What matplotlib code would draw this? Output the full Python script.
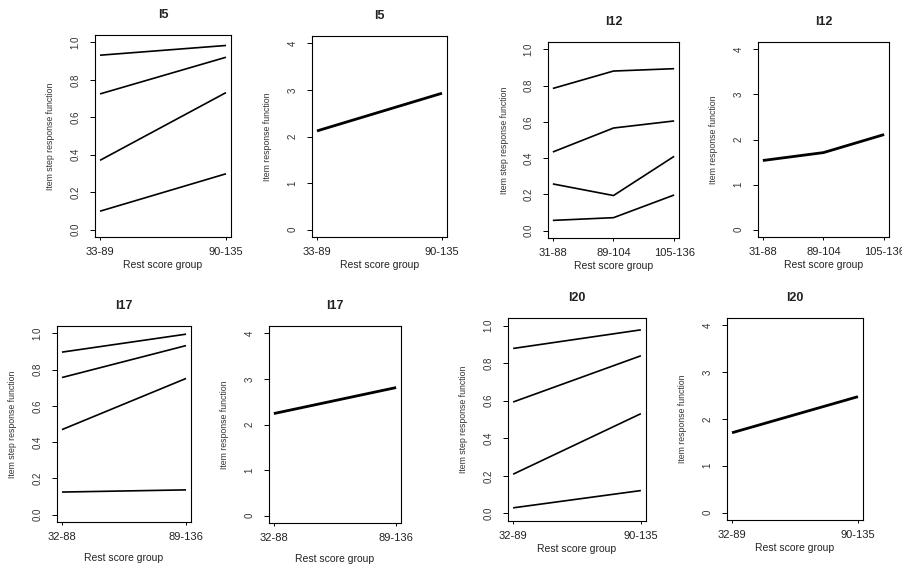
import matplotlib
matplotlib.use("Agg")
import matplotlib.pyplot as plt

plt.rcParams['font.family'] = ['Liberation Sans', 'DejaVu Sans']

# item data
items = ['I5', 'I12', 'I17', 'I20']

groups_I5 = ['33-89', '90-135']
step_I5 = [[0.932, 0.984], [0.725, 0.921], [0.370, 0.732], [0.098, 0.298]]
irf_I5 = [2.12, 2.93]

groups_I12 = ['31-88', '89-104', '105-136']
step_I12 = [[0.784, 0.880, 0.893], [0.434, 0.566, 0.605],
            [0.258, 0.194, 0.410], [0.057, 0.072, 0.197]]
irf_I12 = [1.535, 1.71, 2.11]

groups_I17 = ['32-88', '89-136']
step_I17 = [[0.896, 0.995], [0.756, 0.932], [0.469, 0.751], [0.125, 0.137]]
irf_I17 = [2.24, 2.81]

groups_I20 = ['32-89', '90-135']
step_I20 = [[0.878, 0.977], [0.593, 0.839], [0.209, 0.531], [0.030, 0.122]]
irf_I20 = [1.706, 2.478]

groups = dict(I5=groups_I5, I12=groups_I12, I17=groups_I17, I20=groups_I20)
steps = dict(I5=step_I5, I12=step_I12, I17=step_I17, I20=step_I20)
irfs = dict(I5=irf_I5, I12=irf_I12, I17=irf_I17, I20=irf_I20)

W, H = 903, 565
# panel boxes in pixels: left, right, top, bottom
boxes = {
    ('I5', 'step'): (95, 231, 35, 237),
    ('I5', 'irf'): (312, 447, 36, 237),
    ('I12', 'step'): (548, 679, 42, 238),
    ('I12', 'irf'): (758, 889, 42, 237),
    ('I17', 'step'): (57, 191, 326, 522),
    ('I17', 'irf'): (269, 401, 326, 523),
    ('I20', 'step'): (508, 646, 318, 521),
    ('I20', 'irf'): (727, 863, 318, 520),
}

fig = plt.figure(figsize=(W / 100, H / 100), dpi=100)

for item in items:
    for kind in ('step', 'irf'):
        l, r, t, b = boxes[(item, kind)]
        w, h = r - l, b - t
        ax = fig.add_axes([l / W, 1 - b / H, w / W, h / H])
        g = groups[item]
        x = list(range(1, len(g) + 1))
        n = len(g) - 1
        if kind == 'step':
            for row in steps[item]:
                ax.plot(x, row, color='black', lw=1.2, solid_capstyle='butt')
            ax.set_ylim(-0.04, 1.04)
            ax.set_yticks([0, 0.2, 0.4, 0.6, 0.8, 1.0])
            ax.set_yticklabels(['0.0', '0.2', '0.4', '0.6', '0.8', '1.0'])
            ylab = 'Item step response function'
        else:
            ax.plot(x, irfs[item], color='black', lw=2.0, solid_capstyle='butt')
            ax.set_ylim(-0.16, 4.16)
            ax.set_yticks([0, 1, 2, 3, 4])
            ylab = 'Item response function'
        ax.set_xlim(1 - 0.04 * n, len(g) + 0.04 * n)
        ax.set_xticks(x)
        ax.set_xticklabels(g)
        for s in ax.spines.values():
            s.set_linewidth(0.8)
        ax.tick_params(axis='x', length=2.5, width=0.7, labelsize=8, pad=5,
                       labelcolor='#222222')
        ax.tick_params(axis='y', length=3.5, width=0.7, labelsize=7, pad=7,
                       labelrotation=90, labelcolor='#333333')
        for lab in ax.get_yticklabels():
            lab.set_va('center')
        ax.set_title(item, fontsize=9, fontweight='bold', y=1 + 20 / h,
                     va='center', pad=0, color='#222222')
        ax.set_ylabel(ylab, fontsize=6.3, va='center', color='#333333')
        ax.yaxis.set_label_coords(-44 / w, 0.5)
        ax.set_xlabel('Rest score group', fontsize=7.5, va='center',
                      color='#222222')
        off = 36 if item == 'I17' else 28
        ax.xaxis.set_label_coords(0.5, -off / h)

fig.savefig('out.png', dpi=100)
